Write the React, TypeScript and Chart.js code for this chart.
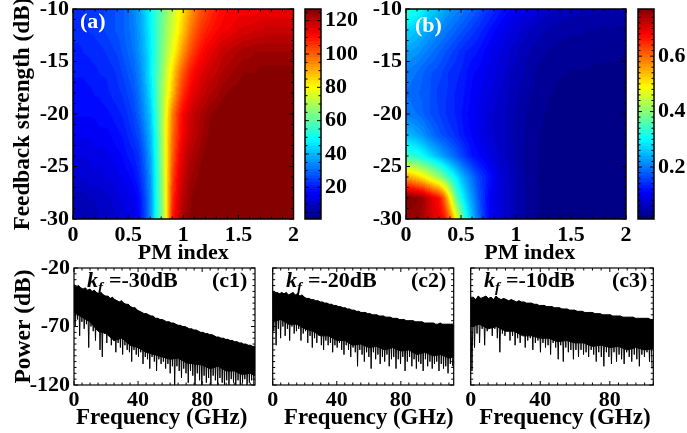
import React, { useEffect, useRef } from "react";
import { Chart, registerables } from "chart.js";
Chart.register(...registerables);

const W = 687, H = 433;
const FONT = "'Liberation Serif'";
const pmStep = 0.05;
const feedbackRows = [-10, -12, -14, -16, -18, -20, -22, -24, -26, -28, -30];

// Panel (a): one row per feedback level, one column per 0.05 of PM index
const heatA = [
[22,22,23,23,24,24,25,26,27,28,30,33,37,42,48,54,60,66,72,78,84,90,95,100,103,106,108,110,111,111,112,112,112,112,113,113,113,113,113,113,113],
[22,22,22,23,23,24,25,26,27,28,30,32,36,41,47,54,61,68,74,80,87,94,100,104,107,109,111,112,113,114,115,116,116,117,117,118,118,118,118,118,118],
[20,20,21,21,22,22,23,24,25,27,29,31,35,40,46,54,62,70,77,85,93,100,105,109,112,114,116,118,119,120,121,122,122,123,123,123,123,123,123,123,123],
[19,19,19,20,20,21,21,22,23,25,27,29,33,39,46,55,64,74,83,93,101,107,111,114,116,118,119,121,122,123,124,125,125,125,126,126,126,126,126,126,126],
[18,18,18,18,19,19,20,21,22,23,25,27,31,37,44,55,66,76,87,98,106,111,115,117,119,121,122,124,125,126,126,127,127,127,127,127,127,127,127,127,127],
[17,17,17,17,17,18,18,19,20,21,23,25,29,35,41,53,66,80,95,105,112,116,119,121,123,125,126,127,127,127,127,127,127,127,127,127,127,127,127,127,127],
[15,15,15,15,16,16,16,17,18,19,21,23,26,32,39,51,66,82,97,106,113,117,120,122,124,126,127,127,127,127,127,127,127,127,127,127,127,127,127,127,127],
[13,13,13,13,14,14,14,15,16,17,19,20,23,29,37,50,65,82,99,109,116,120,122,124,126,127,127,127,127,127,127,127,127,127,127,127,127,127,127,127,127],
[11,11,11,12,12,12,13,13,14,15,16,18,21,27,35,49,64,82,102,112,118,122,124,126,127,127,127,127,127,127,127,127,127,127,127,127,127,127,127,127,127],
[8,8,8,9,9,10,10,11,12,13,14,15,18,25,34,49,63,82,105,114,120,124,126,127,127,127,127,127,127,127,127,127,127,127,127,127,127,127,127,127,127],
[7,7,8,8,8,9,9,10,11,12,13,14,17,24,34,49,62,82,108,116,122,125,126,127,127,127,127,127,127,127,127,127,127,127,127,127,127,127,127,127,127],
];

// Panel (b)
const heatB = [
[.34,.32,.31,.29,.27,.26,.25,.23,.22,.21,.20,.19,.18,.17,.155,.145,.135,.125,.115,.105,.095,.09,.085,.08,.075,.07,.065,.06,.058,.055,.053,.052,.05,.05,.05,.048,.048,.046,.046,.045,.045],
[.27,.26,.25,.24,.23,.22,.21,.20,.19,.18,.17,.16,.15,.14,.13,.12,.11,.10,.09,.085,.08,.07,.065,.06,.055,.05,.047,.045,.042,.04,.04,.038,.038,.036,.036,.035,.035,.035,.034,.034,.034],
[.23,.225,.22,.21,.20,.19,.18,.17,.16,.15,.14,.13,.125,.12,.11,.10,.09,.085,.08,.07,.065,.055,.05,.045,.04,.038,.035,.033,.03,.03,.028,.028,.028,.027,.027,.027,.026,.026,.026,.025,.025],
[.20,.195,.19,.18,.17,.165,.16,.15,.14,.135,.13,.12,.11,.105,.10,.09,.085,.08,.07,.06,.055,.05,.045,.04,.033,.03,.028,.026,.025,.025,.024,.024,.024,.024,.023,.023,.023,.023,.023,.023,.023],
[.19,.185,.18,.175,.17,.16,.15,.145,.14,.13,.125,.115,.105,.10,.09,.085,.08,.07,.065,.055,.05,.045,.04,.035,.03,.027,.025,.024,.023,.023,.022,.022,.022,.022,.022,.022,.022,.022,.022,.022,.022],
[.20,.195,.19,.18,.17,.16,.155,.145,.135,.13,.12,.11,.10,.095,.085,.08,.07,.065,.06,.055,.045,.04,.035,.03,.027,.025,.023,.022,.021,.021,.021,.021,.021,.021,.021,.021,.021,.021,.021,.021,.021],
[.25,.24,.23,.22,.20,.185,.17,.16,.15,.14,.125,.115,.105,.095,.085,.08,.07,.065,.06,.05,.045,.04,.033,.028,.025,.023,.022,.021,.021,.02,.02,.02,.02,.02,.02,.02,.02,.02,.02,.02,.02],
[.34,.33,.32,.30,.28,.26,.24,.22,.20,.18,.16,.14,.12,.11,.10,.09,.08,.07,.06,.055,.045,.04,.033,.028,.025,.022,.021,.02,.02,.02,.02,.02,.02,.02,.02,.02,.02,.02,.02,.02,.02],
[.55,.54,.52,.50,.47,.44,.41,.37,.33,.29,.25,.22,.19,.16,.14,.12,.10,.08,.07,.06,.05,.04,.033,.028,.024,.022,.02,.02,.02,.02,.02,.02,.02,.02,.02,.02,.02,.02,.02,.02,.02],
[.77,.77,.76,.75,.72,.69,.67,.60,.49,.38,.31,.26,.22,.18,.14,.11,.09,.08,.07,.06,.05,.04,.035,.03,.024,.022,.02,.02,.02,.02,.02,.02,.02,.02,.02,.02,.02,.02,.02,.02,.02],
[.74,.75,.75,.74,.72,.70,.69,.67,.60,.50,.40,.31,.25,.20,.15,.11,.09,.08,.07,.06,.05,.04,.035,.03,.024,.022,.02,.02,.02,.02,.02,.02,.02,.02,.02,.02,.02,.02,.02,.02,.02],
];

// Spectra: upper and lower edge of the trace, read left to right
const c1Upper = [-34,-36,-35,-37,-38,-37,-39,-38,-40,-39,-41,-42,-41,-43,-44,-44,-46,-45,-47,-48,-49,-48,-50,-51,-51,-53,-54,-54,-56,-57,-58,-59,-59,-60,-61,-61,-63,-63,-64,-64,-65,-66,-66,-67,-67,-68,-69,-69,-70,-70,-71,-72,-72,-73,-73,-74,-75,-75,-76,-76,-77,-77,-78,-79,-79,-80,-80,-81,-81,-82,-82,-83,-83,-84,-84,-85,-85,-86,-86,-87];
const c1Lower = [-70,-64,-78,-66,-72,-68,-88,-70,-74,-82,-72,-90,-96,-76,-84,-78,-86,-82,-92,-84,-88,-94,-86,-90,-92,-100,-90,-94,-96,-92,-102,-96,-98,-106,-96,-100,-108,-98,-102,-100,-106,-102,-110,-104,-120,-104,-108,-114,-106,-110,-118,-108,-112,-120,-110,-116,-120,-112,-118,-114,-120,-112,-116,-120,-114,-118,-120,-116,-120,-115,-118,-120,-116,-120,-118,-115,-120,-118,-116,-120];
const c2Upper = [-40,-41,-41,-42,-41,-42,-41,-43,-42,-41,-43,-42,-44,-43,-45,-46,-46,-47,-47,-48,-48,-49,-49,-50,-50,-51,-51,-52,-52,-53,-53,-54,-54,-55,-55,-56,-56,-57,-57,-58,-58,-58,-59,-59,-60,-60,-60,-61,-61,-61,-62,-62,-62,-63,-63,-63,-64,-64,-64,-65,-65,-65,-65,-66,-66,-66,-66,-67,-67,-67,-67,-67,-68,-68,-67,-68,-68,-68,-68,-68];
const c2Lower = [-74,-86,-72,-80,-70,-78,-72,-82,-70,-76,-74,-72,-82,-76,-74,-84,-78,-88,-80,-84,-78,-86,-90,-82,-86,-84,-92,-86,-88,-84,-90,-94,-86,-90,-96,-88,-92,-104,-90,-94,-100,-92,-96,-106,-92,-98,-94,-102,-96,-100,-94,-104,-98,-96,-106,-98,-102,-96,-108,-100,-96,-104,-98,-106,-100,-102,-108,-98,-104,-100,-106,-102,-100,-108,-102,-106,-104,-110,-102,-104];
const c3Upper = [-46,-45,-47,-44,-46,-45,-44,-46,-45,-47,-44,-46,-47,-46,-47,-48,-47,-48,-49,-48,-49,-49,-50,-50,-50,-51,-51,-52,-52,-52,-53,-53,-53,-54,-54,-54,-55,-55,-55,-56,-56,-56,-57,-57,-57,-58,-58,-58,-58,-59,-59,-59,-60,-60,-60,-60,-61,-61,-61,-61,-62,-62,-62,-62,-62,-63,-63,-63,-63,-63,-63,-64];
const c3Lower = [-108,-88,-76,-84,-72,-86,-74,-70,-78,-72,-80,-92,-76,-78,-74,-82,-78,-86,-80,-84,-76,-88,-82,-80,-90,-84,-82,-92,-84,-88,-86,-94,-84,-88,-98,-86,-100,-88,-92,-90,-98,-90,-96,-90,-94,-92,-96,-90,-94,-100,-92,-96,-104,-92,-96,-102,-92,-100,-94,-98,-102,-92,-96,-100,-94,-98,-104,-94,-96,-92,-100,-106];

// Lower edge of the solid part of each trace, one value per 5 GHz
const c1Solid = [-58,-62,-66,-74,-76,-82,-80,-86,-88,-92,-94,-96,-98,-97,-101,-102,-103,-106,-104,-108,-108,-111,-110,-112];
const c2Solid = [-66,-64,-68,-68,-72,-74,-78,-78,-82,-82,-86,-85,-88,-87,-90,-88,-91,-90,-94,-92,-95,-94,-97,-96];
const c3Solid = [-70,-68,-72,-70,-74,-74,-78,-78,-80,-80,-83,-82,-84,-84,-87,-86,-88,-87,-90,-88,-90,-89];

const pmTicks = [0, 0.5, 1, 1.5, 2];
const feedbackTicks = [-30, -25, -20, -15, -10];
const barTicksA = [20, 40, 60, 80, 100, 120];
const barTicksB = [0.2, 0.4, 0.6];
const powerTicks = [-120, -70, -20];
const freqTicks = [0, 40, 80];

const clamp01 = (v: number) => Math.max(0, Math.min(1, v));
const jet = (t: number): number[] => [
  clamp01(1.5 - Math.abs(4 * t - 3)) * 255,
  clamp01(1.5 - Math.abs(4 * t - 2)) * 255,
  clamp01(1.5 - Math.abs(4 * t - 1)) * 255,
];
const LEVELS = 64;
const quant = (v: number, lo: number, hi: number) =>
  (Math.floor(clamp01((v - lo) / (hi - lo)) * (LEVELS - 0.001)) + 0.5) / LEVELS;

// Every grid value is one library point; its point style is a small shaded tile.
function tiles(grid: number[][], lo: number, hi: number, dx: number, dy: number) {
  const w = Math.ceil(dx) + 2, h = Math.ceil(dy) + 2;
  const rows = grid.length, cols = grid[0].length;
  const out: HTMLCanvasElement[] = [];
  for (let j = 0; j < rows; j++) for (let i = 0; i < cols; i++) {
    const c = document.createElement("canvas");
    c.width = w; c.height = h;
    const ctx = c.getContext("2d")!;
    const img = ctx.createImageData(w, h);
    for (let py = 0; py < h; py++) for (let px = 0; px < w; px++) {
      const u = Math.max(0, Math.min(cols - 1, i + (px + 0.5 - w / 2) / dx));
      const v = Math.max(0, Math.min(rows - 1, j + (py + 0.5 - h / 2) / dy));
      const i0 = Math.min(cols - 2, Math.floor(u)), j0 = Math.min(rows - 2, Math.floor(v));
      const fu = u - i0, fv = v - j0;
      const val = (grid[j0][i0] * (1 - fu) + grid[j0][i0 + 1] * fu) * (1 - fv) +
        (grid[j0 + 1][i0] * (1 - fu) + grid[j0 + 1][i0 + 1] * fu) * fv;
      const rgb = jet(quant(val, lo, hi));
      const k = (py * w + px) * 4;
      img.data[k] = rgb[0]; img.data[k + 1] = rgb[1]; img.data[k + 2] = rgb[2]; img.data[k + 3] = 255;
    }
    ctx.putImageData(img, 0, 0);
    out.push(c);
  }
  return out;
}

type Box = { l: number; r: number; t: number; b: number };
type Note = { runs: { text: string; font: string; dy?: number; gap?: number }[]; x: number; y: number; color: string };

const f = (size: number, style = "bold") => `${style} ${size}px ${FONT}`;
const kf = (rest: string, x: number, y: number): Note => ({
  x, y, color: "#000",
  runs: [
    { text: "k", font: f(22, "italic bold") },
    { text: "f", font: f(15, "italic bold"), dy: 5, gap: 6 },
    { text: rest, font: f(22) },
  ],
});
const tag = (text: string, x: number, y: number, color = "#000"): Note => ({ x, y, color, runs: [{ text, font: f(22) }] });

function framePlugin(opts: { xStep?: number; yStep?: number; xMajor: number[]; yMajor: number[]; notes: Note[]; lw: number }) {
  return {
    id: "frame",
    afterDatasetsDraw(chart: any) {
      const { ctx, chartArea: a, scales } = chart;
      ctx.save();
      ctx.strokeStyle = "#000";
      ctx.lineWidth = 1;
      const tick = (x0: number, y0: number, x1: number, y1: number) => {
        ctx.beginPath(); ctx.moveTo(x0, y0); ctx.lineTo(x1, y1); ctx.stroke();
      };
      if (opts.xStep) {
        const s = scales.x;
        for (let v = s.min; v <= s.max + 1e-6; v += opts.xStep) {
          const major = opts.xMajor.some((m) => Math.abs(m - v) < 1e-6);
          const len = major ? 4 : 2.5, p = s.getPixelForValue(v);
          tick(p, a.bottom, p, a.bottom - len);
          tick(p, a.top, p, a.top + len);
        }
      }
      if (opts.yStep) {
        const s = scales.y;
        const start = Math.ceil(s.min / opts.yStep - 1e-6) * opts.yStep;
        for (let v = start; v <= s.max + 1e-6; v += opts.yStep) {
          const major = opts.yMajor.some((m) => Math.abs(m - v) < 1e-6);
          const len = major ? 4 : 2.5, p = s.getPixelForValue(v);
          tick(a.left, p, a.left + len, p);
          tick(a.right, p, a.right - len, p);
        }
      }
      ctx.lineWidth = opts.lw;
      ctx.strokeRect(a.left, a.top, a.right - a.left, a.bottom - a.top);
      ctx.textBaseline = "alphabetic";
      for (const n of opts.notes) {
        let x = n.x;
        ctx.fillStyle = n.color;
        for (const r of n.runs) {
          ctx.font = r.font;
          ctx.fillText(r.text, x, n.y + (r.dy || 0));
          x += ctx.measureText(r.text).width + (r.gap || 0);
        }
      }
      ctx.restore();
    },
  };
}

function axis(id: "x" | "y", cfg: { min: number; max: number; ticks: number[]; size: number; title?: string; titleSize?: number; position?: string; show?: boolean; pad?: number }) {
  return {
    type: "linear",
    position: cfg.position || (id === "x" ? "bottom" : "left"),
    min: cfg.min,
    max: cfg.max,
    grid: { display: false, drawTicks: false },
    border: { display: false },
    title: cfg.title
      ? { display: true, text: cfg.title, color: "#000", padding: 0, font: { family: FONT, size: cfg.titleSize || 22, weight: "bold" } }
      : { display: false },
    ticks: {
      display: cfg.show !== false,
      color: "#000",
      padding: cfg.pad ?? 4,
      autoSkip: false,
      maxRotation: 0,
      minRotation: 0,
      font: { family: FONT, size: 22, weight: "bold" },
      callback: (v: number) => String(v),
    },
    afterBuildTicks: (s: any) => { s.ticks = cfg.ticks.map((value) => ({ value })); },
    afterFit: (s: any) => {
      if (id === "x") s.height = cfg.size; else s.width = cfg.size;
      s.paddingLeft = s.paddingRight = s.paddingTop = s.paddingBottom = 0;
    },
  };
}

const padding = (b: Box, left: number, bottom: number, right = 0) => ({
  left: b.l - left, top: b.t, right: W - b.r - right, bottom: H - b.b - bottom,
});

function heatConfig(grid: number[][], lo: number, hi: number, b: Box, notes: Note[], xTitle: string, yTitle?: string) {
  const dx = (b.r - b.l) / (grid[0].length - 1), dy = (b.b - b.t) / (grid.length - 1);
  const cells: { x: number; y: number }[] = [];
  feedbackRows.forEach((fb, j) => grid[j].forEach((_, i) => cells.push({ x: i * pmStep, y: fb })));
  return {
    type: "scatter",
    data: { datasets: [{ data: cells, pointStyle: tiles(grid, lo, hi, dx, dy), pointRadius: 1, pointBorderWidth: 0, clip: 0 }] },
    options: {
      responsive: false, animation: false,
      layout: { padding: padding(b, yTitle ? 64 : 40, 48) },
      plugins: { legend: { display: false }, tooltip: { enabled: false } },
      scales: {
        x: axis("x", { min: 0, max: 2, ticks: pmTicks, size: 48, title: xTitle, pad: 3 }),
        y: axis("y", { min: -30, max: -10, ticks: feedbackTicks, size: yTitle ? 64 : 40, title: yTitle, titleSize: 23.2 }),
      },
    },
    plugins: [framePlugin({ xStep: 0.1, yStep: 1, xMajor: pmTicks, yMajor: feedbackTicks, notes, lw: 1.5 })],
  };
}

function barConfig(lo: number, hi: number, ticks: number[], step: number, b: Box) {
  const levels = Array.from({ length: LEVELS }, (_, k) => k);
  const span = (hi - lo) / LEVELS;
  return {
    type: "bar",
    data: {
      labels: [""],
      datasets: levels.map((k) => {
        const rgb = jet((k + 0.5) / LEVELS);
        return {
          data: [[lo + k * span, Math.min(hi, lo + (k + 1.15) * span)]],
          backgroundColor: `rgb(${rgb[0]},${rgb[1]},${rgb[2]})`,
          borderWidth: 0, barPercentage: 1, categoryPercentage: 1,
        };
      }),
    },
    options: {
      responsive: false, animation: false,
      layout: { padding: padding(b, 0, 0, 50) },
      plugins: { legend: { display: false }, tooltip: { enabled: false } },
      scales: {
        x: { type: "category", stacked: true, display: false },
        y: axis("y", { min: lo, max: hi, ticks, size: 50, position: "right" }),
      },
    },
    plugins: [framePlugin({ yStep: step, xMajor: [], yMajor: ticks, notes: [], lw: 1.5 })],
  };
}

function traceConfig(upper: number[], lower: number[], solid: number[], xMax: number, b: Box, notes: Note[], xTitle: string, yTitle?: string) {
  const stepX = xMax / upper.length;
  const pts: { x: number; y: number }[] = [];
  const top: { x: number; y: number }[] = [];
  upper.forEach((u, i) => {
    pts.push({ x: i * stepX, y: u });
    pts.push({ x: (i + 0.5) * stepX, y: lower[i] });
    top.push({ x: i * stepX, y: u });
  });
  top.push({ x: xMax, y: upper[upper.length - 1] });
  const floor = solid.map((y, i) => ({ x: Math.min(xMax, i * 5), y }));
  floor.push({ x: xMax, y: solid[solid.length - 1] });
  return {
    type: "scatter",
    data: {
      datasets: [
        { data: top, showLine: true, borderColor: "#000", borderWidth: 1, pointRadius: 0, tension: 0, clip: 0 },
        { data: floor, showLine: true, borderColor: "#000", borderWidth: 1, pointRadius: 0, tension: 0, clip: 0, fill: { target: 0 }, backgroundColor: "#000" },
        { data: pts, showLine: true, borderColor: "#000", borderWidth: 1, pointRadius: 0, tension: 0, borderJoinStyle: "bevel", clip: 0 },
      ],
    },
    options: {
      responsive: false, animation: false,
      layout: { padding: padding(b, yTitle ? 64 : 10, 47) },
      plugins: { legend: { display: false }, tooltip: { enabled: false } },
      scales: {
        x: axis("x", { min: 0, max: xMax, ticks: freqTicks, size: 47, title: xTitle, titleSize: 23, pad: 2 }),
        y: axis("y", { min: -120, max: -20, ticks: yTitle ? powerTicks : [], size: yTitle ? 64 : 10, title: yTitle, titleSize: 23.5, show: !!yTitle }),
      },
    },
    plugins: [framePlugin({ xStep: 5, yStep: 5, xMajor: freqTicks, yMajor: powerTicks, notes, lw: 1.2 })],
  };
}

const boxA: Box = { l: 73, r: 293.5, t: 9, b: 219 };
const boxB: Box = { l: 406, r: 626, t: 9, b: 219 };
const boxBarA: Box = { l: 305, r: 321, t: 9, b: 219 };
const boxBarB: Box = { l: 638, r: 654, t: 9, b: 219 };
const boxC1: Box = { l: 74, r: 255, t: 268, b: 385 };
const boxC2: Box = { l: 272.7, r: 453.7, t: 268, b: 385 };
const boxC3: Box = { l: 470.7, r: 653.3, t: 268, b: 385 };

export default function App() {
  const host = useRef<HTMLDivElement>(null);
  useEffect(() => {
    const configs: any[] = [
      heatConfig(heatA, 1, 127, boxA, [tag("(a)", 80, 28, "#fff")], "PM index", "Feedback strength (dB)"),
      barConfig(1, 127, barTicksA, 5, boxBarA),
      heatConfig(heatB, 0.0126, 0.77, boxB, [tag("(b)", 415, 32, "#fff")], "     PM index"),
      barConfig(0.0126, 0.77, barTicksB, 0.02, boxBarB),
      traceConfig(c1Upper, c1Lower, c1Solid, 113, boxC1, [kf("=-30dB", 87, 287), tag("(c1)", 212, 287)], "Frequency (GHz) ", "Power (dB)"),
      traceConfig(c2Upper, c2Lower, c2Solid, 113, boxC2, [kf("=-20dB", 286, 287), tag("(c2)", 411, 287)], "  Frequency (GHz)"),
      traceConfig(c3Upper, c3Lower, c3Solid, 105, boxC3, [kf("=-10dB", 484, 287), tag("(c3)", 612, 287)], " Frequency (GHz)"),
    ];
    const charts: Chart[] = [];
    const canvases: HTMLCanvasElement[] = [];
    for (const cfg of configs) {
      const c = document.createElement("canvas");
      c.width = W; c.height = H;
      c.style.cssText = `position:absolute;left:0;top:0;width:${W}px;height:${H}px`;
      host.current!.appendChild(c);
      canvases.push(c);
      charts.push(new Chart(c, cfg));
    }
    return () => {
      charts.forEach((ch) => ch.destroy());
      canvases.forEach((c) => c.remove());
    };
  }, []);
  return <div ref={host} style={{ position: "absolute", left: 0, top: 0, width: W, height: H, background: "#fff", overflow: "hidden" }} />;
}
